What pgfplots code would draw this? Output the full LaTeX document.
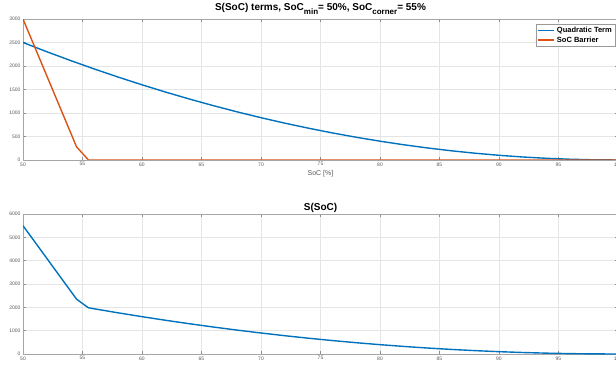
\documentclass[border=0pt]{standalone}
\usepackage{fontspec}
\setmainfont{Liberation Sans}
\usepackage{pgfplots}
\pgfplotsset{compat=1.18}
\definecolor{mblue}{rgb}{0,0.447,0.741}
\definecolor{morange}{rgb}{0.85,0.325,0.098}
\newcommand{\sub}[1]{\raisebox{-0.65ex}{\fontsize{8}{9}\selectfont #1}}
\pgfplotsset{
  mstyle/.style={
    scale only axis,
    width=595pt,
    xmin=50, xmax=100,
    xtick={50,55,...,100},
    grid=major,
    grid style={black!10, line width=0.4pt},
    axis line style={black!35, line width=0.5pt},
    tick style={black!45, line width=0.4pt},
    tick align=inside,
    major tick length=3pt,
    ticklabel style={font=\fontsize{5}{6}\selectfont, text=black!65},
    /pgf/number format/assume math mode=true,
    /pgf/number format/1000 sep={},
    scaled ticks=false,
    xtick pos=both, ytick pos=both,
    xticklabel style={yshift=1pt},
    yticklabel style={xshift=1pt},
    title style={font=\bfseries\fontsize{10}{12}\selectfont, yshift=-5pt},
  }
}
\begin{document}
\begin{tikzpicture}
\begin{axis}[mstyle,
  at={(23pt,210pt)}, anchor=south west,
  height=141pt,
  ymin=0, ymax=3000, ytick={0,500,...,3000},
  title={S(SoC) terms, SoC\sub{min}= 50\%, SoC\sub{corner}= 55\%},
  xlabel={SoC [\%]},
  xlabel style={font=\fontsize{7}{8}\selectfont, text=black!65, yshift=3pt},
  legend style={at={(0.995,0.965)}, anchor=north east, draw=black!40,
    font=\bfseries\fontsize{7.5}{8.5}\selectfont, inner sep=1pt, row sep=-1.5pt,
    legend cell align=left},
  legend image post style={line width=1.5pt},
  legend image code/.code={\draw[#1] (0pt,0pt) -- (16pt,0pt);},
]
\addplot[mblue, line width=1.4pt] coordinates {
(50,2500)(52,2304)(54,2116)(56,1936)(58,1764)(60,1600)(62,1444)(64,1296)(66,1156)(68,1024)
(70,900)(72,784)(74,676)(76,576)(78,484)(80,400)(82,324)(84,256)(86,196)(88,144)
(90,100)(92,64)(94,36)(96,16)(98,4)(100,0)};
\addlegendentry{Quadratic Term}
\addplot[morange, line width=1.4pt] coordinates {
(50,3000)(54.5,280)(55.5,0)(100,0)};
\addlegendentry{SoC Barrier}
\end{axis}
\begin{axis}[mstyle,
  at={(23pt,16pt)}, anchor=south west,
  height=140pt,
  ymin=0, ymax=6000, ytick={0,1000,...,6000},
  title={S(SoC)},
  title style={yshift=-3pt},
]
\addplot[mblue, line width=1.4pt] coordinates {
(50,5500)(54.5,2350)(55.5,1980)(56,1936)(58,1764)(60,1600)(62,1444)(64,1296)(66,1156)(68,1024)
(70,900)(72,784)(74,676)(76,576)(78,484)(80,400)(82,324)(84,256)(86,196)(88,144)
(90,100)(92,64)(94,36)(96,16)(98,4)(100,0)};
\end{axis}
\pgfresetboundingbox
\path[use as bounding box] (0,0) rectangle (616pt,370pt);
\end{tikzpicture}
\end{document}
